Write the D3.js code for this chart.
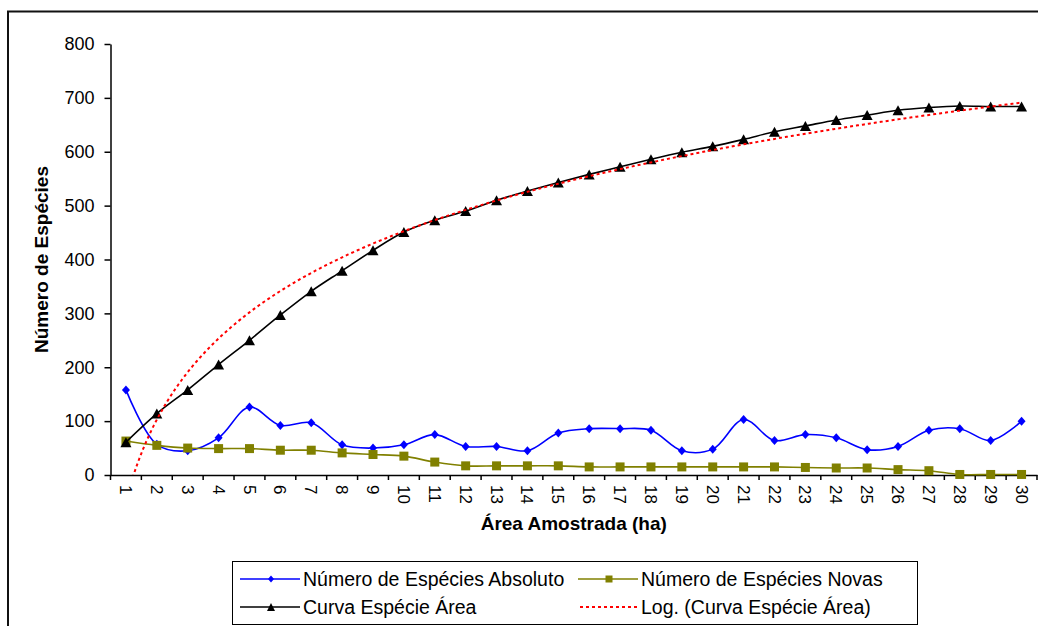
<!DOCTYPE html>
<html>
<head>
<meta charset="utf-8">
<script src="https://cdn.jsdelivr.net/npm/d3@7"></script>
<style>
  body { margin: 0; background: #fff; }
  svg { display: block; }
  text { font-family: "Liberation Sans", Arial, sans-serif; fill: #000; }
</style>
</head>
<body>
<svg id="chart" width="1038" height="626"></svg>
<script>
// Sampled areas (ha), one category per hectare
const categories = ["1","2","3","4","5","6","7","8","9","10","11","12","13","14","15",
                    "16","17","18","19","20","21","22","23","24","25","26","27","28","29","30"];

// Species counted in each hectare
const absoluto = [158, 57, 45, 69, 126, 92, 97, 56, 50, 56, 75, 53, 53, 45, 78,
                  86, 86, 83, 45, 48, 103, 64, 75, 69, 47, 53, 83, 86, 64, 100];

// Species not seen in any earlier hectare
const novas = [63, 55, 50, 49, 49, 46, 46, 41, 38, 35, 24, 17, 17, 17, 17,
               15, 15, 15, 15, 15, 15, 15, 14, 13, 13, 10, 8, 1, 1, 1];

// Cumulative species-area curve
const curva = [61, 114, 158, 205, 250, 297, 341, 379, 417, 451, 473, 490, 510, 527, 543,
               558, 572, 586, 599, 610, 623, 637, 648, 659, 668, 677, 682, 685, 684, 684];

const yTicks = [0, 100, 200, 300, 400, 500, 600, 700, 800];

const seriesNames = ["Número de Espécies Absoluto", "Número de Espécies Novas",
                     "Curva Espécie Área", "Log. (Curva Espécie Área)"];

const svg = d3.select("#chart");
const plot = { left: 110.5, right: 1037, top: 44, bottom: 475 };

const x = d3.scaleBand().domain(categories).range([plot.left, plot.right]).padding(0);
const xc = c => x(c) + x.bandwidth() / 2;
const y = d3.scaleLinear().domain([0, 800]).range([plot.bottom, plot.top]);

// chart frame
svg.append("rect")
  .attr("x", 8).attr("y", 11.5).attr("width", 1045).attr("height", 640)
  .attr("fill", "none").attr("stroke", "#111").attr("stroke-width", 2);

// y axis
const yAxis = svg.append("g")
  .attr("transform", `translate(${plot.left},0)`)
  .call(d3.axisLeft(y).tickValues(yTicks).tickSize(6).tickSizeOuter(0).tickPadding(10));
yAxis.selectAll("text").style("font-size", "18px").attr("fill", "#000");
yAxis.selectAll("line, path").attr("stroke", "#000").attr("stroke-width", 1.5);
yAxis.attr("font-family", null);

// x axis: labels centred in each band, ticks on band boundaries
const xAxis = svg.append("g")
  .attr("transform", `translate(0,${plot.bottom})`)
  .call(d3.axisBottom(x).tickSize(0).tickSizeOuter(0));
xAxis.attr("font-family", null);
xAxis.select("path").attr("stroke", "#000").attr("stroke-width", 1.5);
xAxis.selectAll(".tick text")
  .attr("transform", "rotate(90)")
  .attr("x", 10).attr("y", 0).attr("dy", "0.35em")
  .style("text-anchor", "start")
  .style("font-size", "17px")
  .attr("fill", "#000");
const bounds = categories.map(c => x(c)).concat([plot.right]);
xAxis.selectAll(".bound").data(bounds).join("line")
  .attr("class", "bound")
  .attr("x1", d => d).attr("x2", d => d)
  .attr("y1", 0).attr("y2", 5)
  .attr("stroke", "#000").attr("stroke-width", 1.5);

// axis titles
svg.append("text")
  .attr("x", (plot.left + plot.right) / 2).attr("y", 530)
  .attr("text-anchor", "middle")
  .style("font-size", "19px").style("font-weight", "bold")
  .text("Área Amostrada (ha)");
svg.append("text")
  .attr("transform", `translate(48,${(plot.top + plot.bottom) / 2}) rotate(-90)`)
  .attr("text-anchor", "middle")
  .style("font-size", "19px").style("font-weight", "bold")
  .text("Número de Espécies");

// marker shapes
const diamondPath = (w, h) => `M0,${-h/2}L${w/2},0L0,${h/2}L${-w/2},0Z`;
const squarePath = s => `M${-s/2},${-s/2}H${s/2}V${s/2}H${-s/2}Z`;
const trianglePath = (w, h) => `M0,${-h/2}L${w/2},${h/2}L${-w/2},${h/2}Z`;

const line = d3.line()
  .x((d, i) => xc(categories[i]))
  .y(d => y(d))
  .curve(d3.curveCatmullRom.alpha(0.5));

const series = [
  { values: absoluto, color: "#0000ff", marker: diamondPath(8, 9), legendMarker: diamondPath(6, 7) },
  { values: novas, color: "#808000", marker: squarePath(9), legendMarker: squarePath(7) },
  { values: curva, color: "#000000", marker: trianglePath(11, 10), legendMarker: trianglePath(8, 8) }
];

const plotG = svg.append("g");
series.forEach(s => {
  plotG.append("path")
    .attr("d", line(s.values))
    .attr("fill", "none").attr("stroke", s.color).attr("stroke-width", 1.6);
  plotG.selectAll(null).data(s.values).join("path")
    .attr("transform", (d, i) => `translate(${xc(categories[i])},${y(d)})`)
    .attr("d", s.marker)
    .attr("fill", s.color);
});

// logarithmic trend line of the cumulative curve, least squares on ln(area)
const lx = curva.map((d, i) => Math.log(+categories[i]));
const mx = d3.mean(lx), my = d3.mean(curva);
const slope = d3.sum(lx, (v, i) => (v - mx) * (curva[i] - my)) / d3.sum(lx, v => (v - mx) ** 2);
const intercept = my - slope * mx;
const xNum = d3.scaleLinear()
  .domain([+categories[0], +categories[categories.length - 1]])
  .range([xc(categories[0]), xc(categories[categories.length - 1])]);
const trendX = d3.range(+categories[0], +categories[categories.length - 1] + 0.001, 0.05);

svg.append("clipPath").attr("id", "plotClip")
  .append("rect").attr("x", plot.left).attr("y", plot.top)
  .attr("width", plot.right - plot.left).attr("height", plot.bottom - plot.top);

svg.append("path")
  .attr("clip-path", "url(#plotClip)")
  .attr("d", d3.line().x(v => xNum(v)).y(v => y(slope * Math.log(v) + intercept))(trendX))
  .attr("fill", "none").attr("stroke", "#ff0000").attr("stroke-width", 2)
  .attr("stroke-dasharray", "3,3");

// legend
const legend = svg.append("g");
legend.append("rect")
  .attr("x", 232.5).attr("y", 561.5).attr("width", 685).attr("height", 63)
  .attr("fill", "#fff").attr("stroke", "#000").attr("stroke-width", 1);

const legendItems = [
  { name: seriesNames[0], s: series[0], lx: 240, ly: 579 },
  { name: seriesNames[1], s: series[1], lx: 578, ly: 579 },
  { name: seriesNames[2], s: series[2], lx: 240, ly: 607 },
  { name: seriesNames[3], s: null, lx: 578, ly: 607 }
];
legendItems.forEach(it => {
  const g = legend.append("g");
  if (it.s) {
    g.append("line").attr("x1", it.lx).attr("x2", it.lx + 60)
      .attr("y1", it.ly).attr("y2", it.ly)
      .attr("stroke", it.s.color).attr("stroke-width", 1.6);
    g.append("path").attr("transform", `translate(${it.lx + 31},${it.ly})`)
      .attr("d", it.s.legendMarker).attr("fill", it.s.color);
  } else {
    g.append("line").attr("x1", it.lx + 2).attr("x2", it.lx + 62)
      .attr("y1", it.ly).attr("y2", it.ly)
      .attr("stroke", "#ff0000").attr("stroke-width", 2).attr("stroke-dasharray", "3,3");
  }
  g.append("text").attr("x", it.lx + 63).attr("y", it.ly).attr("dy", "0.35em")
    .style("font-size", "19.5px").text(it.name);
});
</script>
</body>
</html>
